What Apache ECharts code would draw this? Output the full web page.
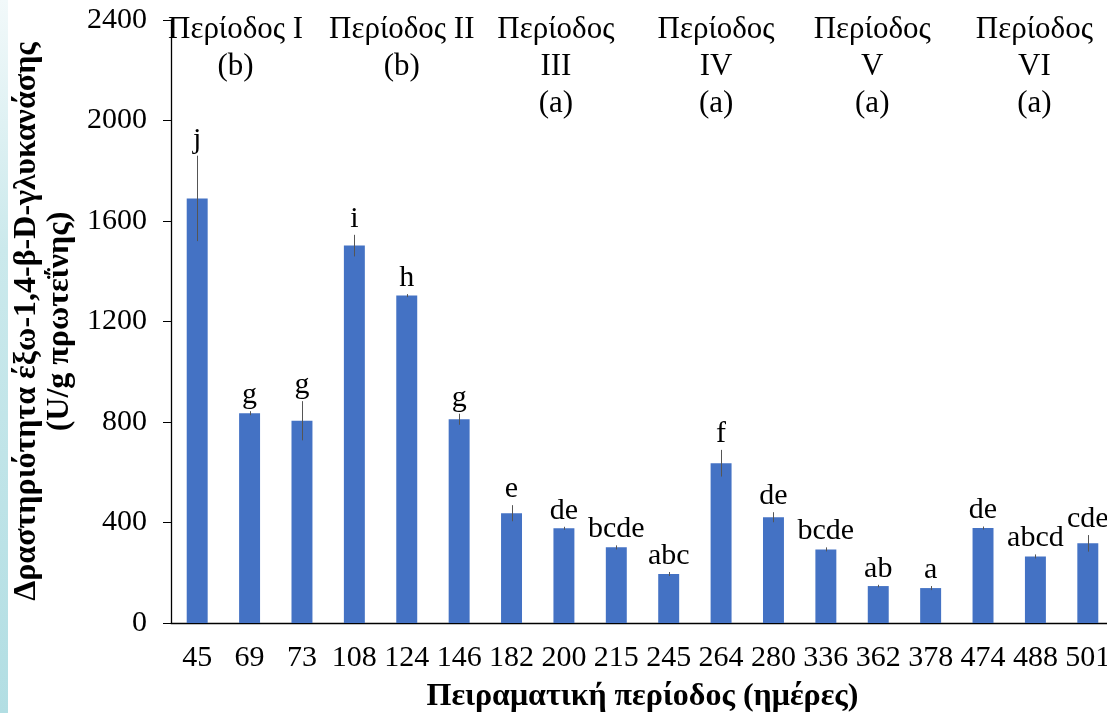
<!DOCTYPE html>
<html><head><meta charset="utf-8">
<script src="https://cdn.jsdelivr.net/npm/echarts@6/dist/echarts.min.js"></script>
<style>html,body{margin:0;padding:0;background:#fff}#c{width:1107px;height:713px}</style>
</head><body><div id="c"></div>
<script>
// ---- data ----
const days = ['45','69','73','108','124','146','182','200','215','245','264','280','336','362','378','474','488','501'];
const activity = [1690,835,805,1502,1303,811,437,377,301,195,636,421,293,147,139,378,265,317];
const errorBars = [170,8,78,43,6,22,32,6,8,8,53,20,8,5,8,6,8,33];
const letters = ['j','g','g','i','h','g','e','de','bcde','abc','f','de','bcde','ab','a','de','abcd','cde'];
const periodTitles = ['Περίοδος I','Περίοδος II','Περίοδος\nIII','Περίοδος\nIV','Περίοδος\nV','Περίοδος\nVI'];
const periodGroups = ['(b)','(b)','(a)','(a)','(a)','(a)'];
const periodMidDay = ['69','124','200','264','362','488'];
const yMin = 0, yMax = 2400, yStep = 400;
const yTitle = 'Δραστηριότητα έξω-1,4-β-D-γλυκανάσης\n(U/g πρωτεΐνης)';
const xTitle = 'Πειραματική περίοδος (ημέρες)';

const FF = '"Liberation Serif","Times New Roman",serif';
const chart = echarts.init(document.getElementById('c'), null, {renderer:'canvas'});
const nudges = [-14,-5,-8,-5,-6,-1];

chart.setOption({
  animation:false,
  backgroundColor:'#fff',
  graphic:[{
    type:'rect', left:0, top:0, shape:{x:0,y:0,width:8,height:713}, z:-10,
    style:{fill:new echarts.graphic.LinearGradient(0,0,0,1,[
      {offset:0,color:'#f2f9fa'},{offset:0.35,color:'#cbe9ec'},{offset:1,color:'#b2dee3'}])}
  }],
  grid:{left:171, top:20, width:943, height:603, outerBoundsMode:'none', containLabel:false},
  xAxis:{
    type:'category', data:days,
    axisLine:{show:true, lineStyle:{color:'#000', width:1.3}},
    axisTick:{show:false},
    axisLabel:{fontFamily:FF, fontSize:30, color:'#000', margin:20, interval:0},
    name:xTitle, nameLocation:'middle', nameGap:58,
    nameTextStyle:{fontFamily:FF, fontSize:32, fontWeight:'bold', color:'#000'}
  },
  yAxis:{
    type:'value', min:yMin, max:yMax, interval:yStep,
    axisLine:{show:true, lineStyle:{color:'#000', width:1.3}},
    axisTick:{show:true, inside:false, length:8, lineStyle:{color:'#000'}},
    splitLine:{show:false},
    axisLabel:{fontFamily:FF, fontSize:30, color:'#000', margin:24, formatter:v=>String(v)},
    name:yTitle, nameLocation:'middle', nameGap:84, nameRotate:90,
    nameTextStyle:{fontFamily:FF, fontSize:32, fontWeight:'bold', color:'#000', lineHeight:33, align:'center'}
  },
  series:[
    {
      type:'bar', data:activity, barWidth:'40%',
      itemStyle:{color:'#4472C4'}
    },
    {
      type:'custom', z:5,
      data:days.map((d,i)=>[i, activity[i], errorBars[i]]),
      encode:{x:0, y:1},
      renderItem:function(params, api){
        const i = api.value(0), v = api.value(1), e = api.value(2);
        const top = api.coord([i, v+e]);
        const bot = api.coord([i, v-e]);
        const x = Math.round(top[0])+0.5;
        return {type:'group', children:[
          {type:'line', shape:{x1:x,y1:top[1],x2:x,y2:bot[1]}, style:{stroke:'#555',lineWidth:1}},
          {type:'text', x:top[0], y:top[1]-16, style:{text:letters[params.dataIndex], font:'30px '+FF, fill:'#000', align:'center', verticalAlign:'middle'}}
        ]};
      }
    },
    {
      type:'custom', z:6,
      data:periodMidDay.map((d,k)=>[days.indexOf(d), yMax, k]),
      encode:{x:0, y:1},
      renderItem:function(params, api){
        const k = params.dataIndex;
        const p = api.coord([api.value(0), api.value(1)]);
        return {type:'text', x:p[0]+nudges[k], y:p[1]-8.5,
          style:{text:periodTitles[k]+'\n'+periodGroups[k], font:'31px '+FF, fill:'#000',
            align:'center', verticalAlign:'top', lineHeight:37}};
      }
    }
  ]
});
</script></body></html>
